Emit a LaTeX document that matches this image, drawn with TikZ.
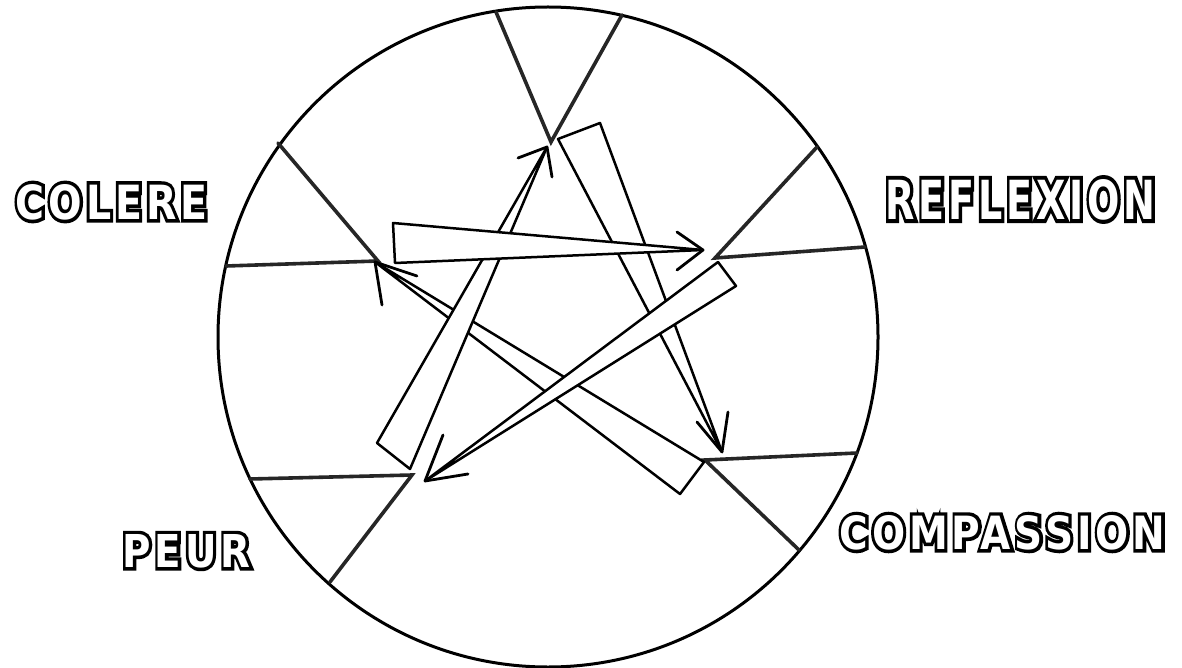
\documentclass[tikz,border=0pt]{standalone}
\usepackage{fontspec}
\usepackage{graphicx}
\usetikzlibrary{calc}
\newfontfamily\lblfont{DejaVu Sans Bold}[LetterSpace=10]
\newfontfamily\lblrim{DejaVu Sans Bold}[LetterSpace=10, FakeBold=15]
\newcommand{\emotext}[3]{\resizebox{#1}{#2}{#3}}
\tikzset{
  rim/.style   = {line width=1.5pt},
  chord/.style = {line width=1.8pt, line cap=round, draw=black!85},
  bar/.style   = {draw, fill=white, line width=1.25pt, line join=round},
  barb/.style  = {line width=1.4pt, line cap=round, line join=round},
  lbl/.style   = {inner sep=0pt, font=\lblfont, text=white},
  lblrim/.style = {inner sep=0pt, font=\lblrim, text=black},
}
\begin{document}
\begin{tikzpicture}[x=0.5pt, y=-0.5pt]
  \useasboundingbox (0,0) rectangle (1182,668);
  \coordinate (O) at (548,337);
  % inner points of the sectors
  \coordinate (top) at (551,142);
  \coordinate (rgt) at (715,258);
  \coordinate (lrt) at (705,460);
  \coordinate (llf) at (412,475);
  \coordinate (lft) at (378,261);
  % where the sector lines meet the rim
  \coordinate (top-a) at (496,12);
  \coordinate (top-b) at (622,15);
  \coordinate (lft-a) at (278,143);
  \coordinate (lft-b) at (226,266);
  \coordinate (rgt-a) at (817,147);
  \coordinate (rgt-b) at (865,247);
  \coordinate (lrt-a) at (857,453);
  \coordinate (lrt-b) at (799,550);
  \coordinate (llf-a) at (250,479);
  \coordinate (llf-b) at (330,582);

  \draw[rim] (O) circle (330);
  \foreach \p in {top,lft,rgt,lrt,llf}
    \draw[chord] (\p-a) -- (\p) -- (\p-b);

  % tapered arrows, drawn from the lowest to the uppermost
  \draw[bar] (558,139) -- (600,123) -- (722,452) -- cycle;
  \draw[barb] (697,422) -- (722,452) -- (728,412);
  \draw[bar] (680,494) -- (704,462) -- (375,262) -- cycle;
  \draw[barb] (417,276) -- (375,262) -- (382,305);
  \draw[bar] (377,443) -- (410,469) -- (547,147) -- cycle;
  \draw[barb] (518,158) -- (547,147) -- (552,177);
  \draw[bar] (393,223) -- (395,263) -- (703,250) -- cycle;
  \draw[barb] (677,232) -- (703,250) -- (677,270);
  \draw[bar] (718,262) -- (736,286) -- (425,481) -- cycle;
  \draw[barb] (443,435) -- (425,481) -- (468,474);

  % hollow lettering
  \foreach \nm/\lx/\ly/\w/\h in {COLERE/111.5/202/96pt/17.5pt,
      REFLEXION/1020.5/199.5/135pt/20pt,
      COMPASSION/1002.5/532.5/163pt/17pt,
      PEUR/186.5/551/64pt/16.5pt}{
    \node[lblrim] at (\lx,\ly) {\emotext{\w}{\h}{\nm}};
    \node[lbl] (\nm) at (\lx,\ly) {\emotext{\w}{\h}{\nm}};
  }
\end{tikzpicture}
\end{document}
